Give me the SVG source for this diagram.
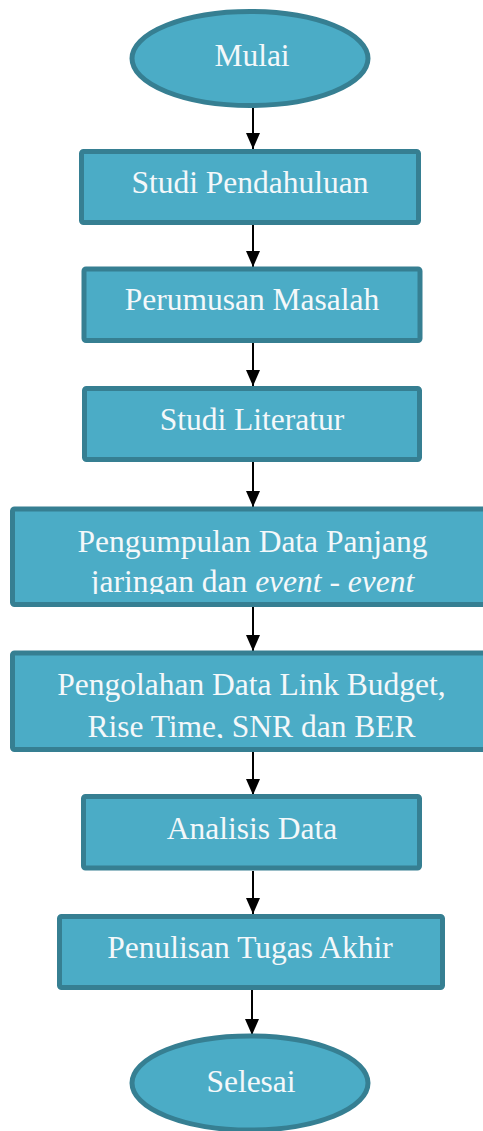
<svg xmlns="http://www.w3.org/2000/svg" width="483" height="1131" viewBox="0 0 483 1131">
<style>
.n{fill:#4BACC6;stroke:#367F92;stroke-width:5}
.t{font-family:"Liberation Serif","Times New Roman",serif;font-size:31.5px;fill:#F4F8FA;text-anchor:middle}
.c{stroke:#000;stroke-width:2;fill:none}
</style>
<defs>
<marker id="ah" markerUnits="userSpaceOnUse" markerWidth="16" markerHeight="14" refX="16" refY="7" orient="auto">
<path d="M0,0 L16,7 L0,14 Z" fill="#000"/>
</marker>
<clipPath id="cp4"><rect x="12" y="509" width="480" height="85"/></clipPath>
<clipPath id="cp5"><rect x="12" y="653" width="480" height="85"/></clipPath>
</defs>
<g id="connectors">
<line class="c" x1="253" y1="108" x2="253" y2="149" marker-end="url(#ah)"/>
<line class="c" x1="253" y1="225" x2="253" y2="267" marker-end="url(#ah)"/>
<line class="c" x1="253" y1="343" x2="253" y2="386" marker-end="url(#ah)"/>
<line class="c" x1="253" y1="462" x2="253" y2="507" marker-end="url(#ah)"/>
<line class="c" x1="253" y1="607" x2="253" y2="651" marker-end="url(#ah)"/>
<line class="c" x1="253" y1="752" x2="253" y2="795" marker-end="url(#ah)"/>
<line class="c" x1="253" y1="871" x2="253" y2="914" marker-end="url(#ah)"/>
<line class="c" x1="252" y1="990" x2="252" y2="1035" marker-end="url(#ah)"/>
</g>
<g id="mulai">
<ellipse class="n" cx="250" cy="58.5" rx="118" ry="47"/>
<text class="t" x="252" y="66">Mulai</text>
</g>
<g id="studi-pendahuluan">
<rect class="n" x="81.5" y="151.5" width="337" height="71" rx="2"/>
<text class="t" x="250" y="193">Studi Pendahuluan</text>
</g>
<g id="perumusan-masalah">
<rect class="n" x="84" y="269" width="336" height="71.5" rx="2"/>
<text class="t" x="252" y="309.5">Perumusan Masalah</text>
</g>
<g id="studi-literatur">
<rect class="n" x="84.5" y="388.5" width="335" height="71" rx="2"/>
<text class="t" x="252" y="430">Studi Literatur</text>
</g>
<g id="pengumpulan-data">
<rect class="n" x="12.5" y="509" width="480" height="95.5" rx="2"/>
<g clip-path="url(#cp4)">
<text class="t" x="252.5" y="552">Pengumpulan Data Panjang</text>
<text class="t" x="252.5" y="592">jaringan dan <tspan font-style="italic">event</tspan> - <tspan font-style="italic">event</tspan></text>
</g>
</g>
<g id="pengolahan-data">
<rect class="n" x="12.5" y="653" width="480" height="96.5" rx="2"/>
<g clip-path="url(#cp5)">
<text class="t" x="251.5" y="694.5">Pengolahan Data Link Budget,</text>
<text class="t" x="251.5" y="736.5">Rise Time, SNR dan BER</text>
</g>
</g>
<g id="analisis-data">
<rect class="n" x="83.5" y="796.5" width="336" height="71.5" rx="2"/>
<text class="t" x="252" y="838.5">Analisis Data</text>
</g>
<g id="penulisan-tugas-akhir">
<rect class="n" x="59.5" y="916.5" width="383" height="71" rx="2"/>
<text class="t" x="250" y="957.5">Penulisan Tugas Akhir</text>
</g>
<g id="selesai">
<ellipse class="n" cx="250" cy="1083" rx="118" ry="47"/>
<text class="t" x="251" y="1092">Selesai</text>
</g>
</svg>
